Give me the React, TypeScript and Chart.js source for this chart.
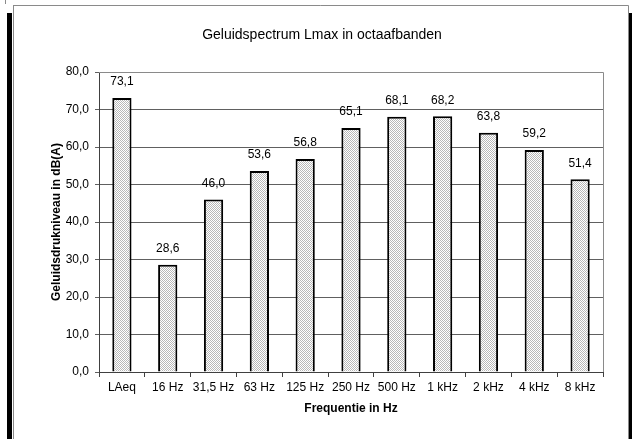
import React, { useEffect, useRef } from "react";
import { Chart, registerables } from "chart.js";

Chart.register(...registerables);

const categories = ["LAeq", "16 Hz", "31,5 Hz", "63 Hz", "125 Hz", "250 Hz", "500 Hz", "1 kHz", "2 kHz", "4 kHz", "8 kHz"];
const levels = [73.1, 28.6, 46.0, 53.6, 56.8, 65.1, 68.1, 68.2, 63.8, 59.2, 51.4];
const chartTitle = "Geluidspectrum Lmax in octaafbanden";
const xTitle = "Frequentie in Hz";
const yTitle = "Geluidsdrukniveau in dB(A)";

const FONT = '"Liberation Sans", Arial, sans-serif';
const fmt = (v: number) => v.toFixed(1).replace(".", ",");

function makePattern(): CanvasPattern | string {
  const c = document.createElement("canvas");
  c.width = 2;
  c.height = 2;
  const g = c.getContext("2d");
  if (!g) return "#dddddd";
  g.fillStyle = "#ffffff";
  g.fillRect(0, 0, 2, 2);
  g.fillStyle = "#b8b8b8";
  g.fillRect(0, 0, 1, 1);
  g.fillRect(1, 1, 1, 1);
  const p = g.createPattern(c, "repeat");
  return p || "#dddddd";
}

const framePlugin = {
  id: "frame",
  beforeDraw(chart: any) {
    const ctx = chart.ctx;
    ctx.save();
    ctx.fillStyle = "#ffffff";
    ctx.fillRect(0, 0, chart.width, chart.height);
    // outer frame
    ctx.fillStyle = "#000000";
    ctx.fillRect(7, 13, 5, 439 - 13);
    ctx.fillRect(629, 13, 3, 439 - 13);
    ctx.strokeStyle = "#8a8a8a";
    ctx.lineWidth = 1;
    ctx.beginPath();
    ctx.moveTo(13.5, 5);
    ctx.lineTo(13.5, 439);
    ctx.moveTo(13, 5.5);
    ctx.lineTo(628.5, 5.5);
    ctx.lineTo(628.5, 439);
    ctx.moveTo(5.5, 0);
    ctx.lineTo(5.5, 4);
    ctx.stroke();
    ctx.restore();
  },
  afterDraw(chart: any) {
    const ctx = chart.ctx;
    const a = chart.chartArea;
    ctx.save();
    // plot border top/right
    ctx.strokeStyle = "#8a8a8a";
    ctx.lineWidth = 1;
    ctx.beginPath();
    ctx.moveTo(a.left, a.top + 0.5);
    ctx.lineTo(a.right + 0.5, a.top + 0.5);
    ctx.lineTo(a.right + 0.5, a.bottom);
    ctx.stroke();
    // titles
    ctx.fillStyle = "#000000";
    ctx.textAlign = "center";
    ctx.textBaseline = "middle";
    ctx.font = `14px ${FONT}`;
    ctx.fillText(chartTitle, 322, 35);
    ctx.font = `bold 12px ${FONT}`;
    ctx.fillText(xTitle, (a.left + a.right) / 2, 409);
    ctx.translate(57, (a.top + a.bottom) / 2);
    ctx.rotate(-Math.PI / 2);
    ctx.fillText(yTitle, 0, 0);
    ctx.restore();
  },
  afterDatasetsDraw(chart: any) {
    const ctx = chart.ctx;
    const meta = chart.getDatasetMeta(0);
    ctx.save();
    ctx.fillStyle = "#000000";
    ctx.font = `12px ${FONT}`;
    ctx.textAlign = "center";
    ctx.textBaseline = "middle";
    meta.data.forEach((el: any, i: number) => {
      ctx.fillText(fmt(levels[i]), el.x, el.y - 16);
    });
    ctx.restore();
  },
};

export default function App() {
  const ref = useRef<HTMLCanvasElement | null>(null);
  useEffect(() => {
    if (!ref.current) return;
    const chart = new Chart(ref.current, {
      type: "bar",
      data: {
        labels: categories,
        datasets: [
          {
            data: levels,
            backgroundColor: makePattern() as any,
            borderColor: "#000000",
            borderWidth: 2,
            barPercentage: 0.42,
            categoryPercentage: 1,
          },
        ],
      },
      options: {
        animation: false,
        responsive: false,
        devicePixelRatio: 1,
        layout: { padding: { left: 0, top: 72, right: 29, bottom: 0 } },
        plugins: {
          legend: { display: false },
          title: { display: false },
          tooltip: { enabled: false },
        },
        scales: {
          x: {
            afterFit: (s: any) => {
              s.height = 67;
            },
            grid: {
              offset: true,
              drawOnChartArea: false,
              drawTicks: true,
              tickLength: 5,
              color: "#404040",
            },
            border: { color: "#404040", width: 1 },
            ticks: {
              color: "#000000",
              font: { family: FONT, size: 12 },
              padding: 3,
              maxRotation: 0,
              autoSkip: false,
            },
          },
          y: {
            min: 0,
            max: 80,
            afterFit: (s: any) => {
              s.width = 99;
            },
            grid: {
              color: "#606060",
              drawTicks: true,
              tickLength: 4,
            },
            border: { color: "#404040", width: 1 },
            ticks: {
              stepSize: 10,
              color: "#000000",
              font: { family: FONT, size: 12 },
              padding: 6,
              callback: (v: any) => fmt(Number(v)),
            },
          },
        },
      },
      plugins: [framePlugin],
    });
    return () => chart.destroy();
  }, []);
  return (
    <div style={{ position: "absolute", left: 0, top: 0, width: 632, height: 439 }}>
      <canvas ref={ref} width={632} height={439} style={{ display: "block", width: 632, height: 439 }} />
    </div>
  );
}
